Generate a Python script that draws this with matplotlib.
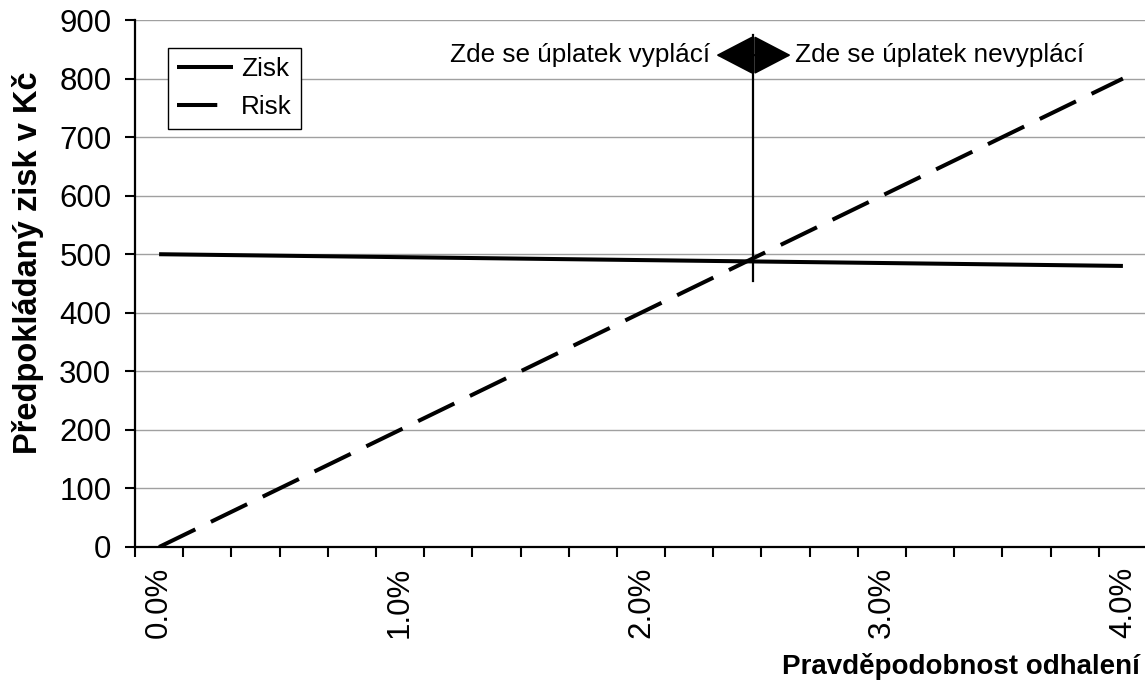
import matplotlib
matplotlib.use("Agg")
import matplotlib.pyplot as plt

plt.rcParams['font.family'] = ['Liberation Sans', 'DejaVu Sans']

# pravdepodobnost odhaleni v %, krok 0.2
prob_labels = ["0.0%", "0.2%", "0.4%", "0.6%", "0.8%", "1.0%", "1.2%", "1.4%",
               "1.6%", "1.8%", "2.0%", "2.2%", "2.4%", "2.6%", "2.8%", "3.0%",
               "3.2%", "3.4%", "3.6%", "3.8%", "4.0%"]
zisk = [500, 499, 498, 497, 496, 495, 494, 493, 492, 491, 490,
        489, 488, 487, 486, 485, 484, 483, 482, 481, 480]
risk = [0, 40, 80, 120, 160, 200, 240, 280, 320, 360, 400,
        440, 480, 520, 560, 600, 640, 680, 720, 760, 800]
yticks = [0, 100, 200, 300, 400, 500, 600, 700, 800, 900]
shown_labels = [0, 5, 10, 15, 20]

# bod zlomu (kde se protnou zisk a risk)
zlom_x = 12.32
zlom_y = [454, 874]
sipka_y = 840

W, H = 1145, 688
fig = plt.figure(figsize=(W / 100, H / 100), dpi=100)
ax = fig.add_axes([135 / W, (H - 547) / H, 1012 / W, 527 / H])

x = list(range(len(prob_labels)))
ax.plot(x, zisk, color='black', lw=2.9, label='Zisk', solid_capstyle='butt')
ax.plot(x, risk, color='black', lw=2.9, label='Risk', dashes=(10, 4.3))

ax.set_xlim(-0.5, len(prob_labels) - 0.5)
ax.set_ylim(0, 900)
ax.set_yticks(yticks)
ax.set_yticklabels([str(v) for v in yticks], fontsize=22.5)

ax.set_xticks([i - 0.5 for i in range(len(prob_labels) + 1)])
ax.set_xticklabels([])
ax.set_xticks(shown_labels, minor=True)
ax.set_xticklabels([prob_labels[i] for i in shown_labels], minor=True,
                   rotation=90, fontsize=22.5)
ax.tick_params(axis='x', which='minor', length=0, pad=14)
ax.tick_params(axis='x', which='major', length=7, width=1.5, direction='out')
ax.tick_params(axis='y', length=7, width=1.5, direction='out', pad=10)

ax.grid(axis='y', color='#a0a0a0', lw=1)
ax.set_axisbelow(True)
for s in ['top', 'right']:
    ax.spines[s].set_visible(False)
for s in ['left', 'bottom']:
    ax.spines[s].set_linewidth(1.6)

# svisla cara a sipky
ax.plot([zlom_x, zlom_x], zlom_y, color='black', lw=1.6)
ax.annotate('', xy=(11.56, sipka_y), xytext=(13.11, sipka_y),
            arrowprops=dict(arrowstyle='<|-|>,head_length=24,head_width=12.5',
                            color='black', lw=1.5, shrinkA=0, shrinkB=0,
                            mutation_scale=1))
ax.text(11.43, sipka_y, 'Zde se úplatek vyplácí', ha='right', va='center', fontsize=18.8)
ax.text(13.2, sipka_y, 'Zde se úplatek nevyplácí', ha='left', va='center', fontsize=18.8)

leg = ax.legend(loc='upper left', bbox_to_anchor=(168 / W, 1 - 48 / H),
                bbox_transform=fig.transFigure, borderaxespad=0, fontsize=18.8,
                fancybox=False, framealpha=1, edgecolor='black',
                handlelength=2.15, handletextpad=0.3, borderpad=0.35,
                labelspacing=0.55)
leg.get_frame().set_linewidth(1)

fig.text(28 / W, 1 - 263 / H, 'Předpokládaný zisk v Kč', rotation=90,
         ha='center', va='center', fontsize=23.5, fontweight='bold')
fig.text(1140 / W, 1 - 666 / H, 'Pravděpodobnost odhalení', ha='right',
         va='center', fontsize=20, fontweight='bold')

fig.savefig('out.png', dpi=100)
